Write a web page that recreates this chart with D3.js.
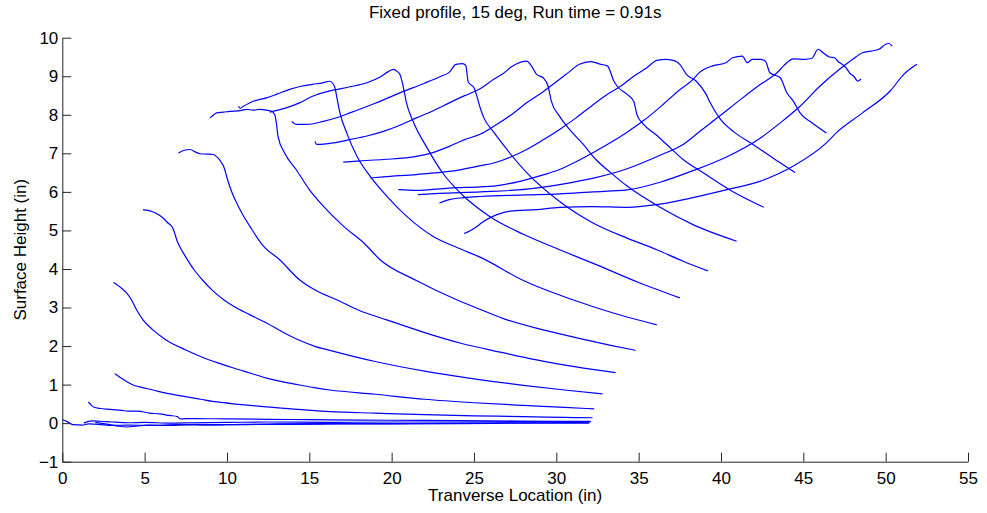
<!DOCTYPE html>
<html>
<head>
<meta charset="utf-8">
<script src="https://cdn.jsdelivr.net/npm/d3@7/dist/d3.min.js"></script>
<style>
  html, body { margin: 0; padding: 0; background: #fff; }
  svg { display: block; font-family: "Liberation Sans", Arial, Helvetica, sans-serif; }
</style>
</head>
<body>
<svg id="chart" width="987" height="513"></svg>
<script>
// Chart text and axis ticks
const chartTitle = "Fixed profile, 15 deg, Run time = 0.91s";
const xLabel = "Tranverse Location (in)";
const yLabel = "Surface Height (in)";
const xTicks = [0, 5, 10, 15, 20, 25, 30, 35, 40, 45, 50, 55];
const yTicks = [-1, 0, 1, 2, 3, 4, 5, 6, 7, 8, 9, 10];
const yTickLabels = ["\u22121", "0", "1", "2", "3", "4", "5", "6", "7", "8", "9", "10"];

// Surface profiles, [transverse location (in), surface height (in)], one per snapshot
const profileZ0 = [[0,0.09],[0.3,0.04],[0.65,-0.04],[1.2,-0.05],[1.6,-0.02],[2.2,-0.03],[3.0,-0.06],[4.0,-0.05],[5.5,-0.06],[7,-0.04],[9,-0.05],[11,-0.03],[14,-0.03],[17,-0.02],[20,-0.02],[24,-0.01],[28,0.0],[32,0.0]];
const profileZ1 = [[1.3,0.0],[1.8,0.06],[2.3,0.05],[3.0,0.03],[4.0,0.01],[5.0,0.02],[6.5,0.0],[8,0.01],[10,0.02],[13,0.03],[16,0.02],[20,0.03],[24,0.03],[28,0.04],[32.1,0.04]];
const profileZ2 = [[2.0,0.02],[2.6,-0.02],[3.3,-0.07],[3.9,-0.1],[4.5,-0.08],[5.2,-0.05],[6.5,-0.06],[8,-0.03],[10,-0.04],[13,-0.02],[16,-0.01],[20,-0.01],[25,0.0],[29,0.01],[32,0.02]];
const profile01 = [[1.58,0.55],[1.75,0.47],[1.9,0.42],[2.3,0.38],[2.9,0.36],[3.6,0.33],[4.0,0.31],[4.6,0.31],[5.3,0.26],[5.9,0.24],[6.5,0.2],[7.0,0.17],[7.15,0.11],[8,0.12],[10,0.11],[12.5,0.1],[15,0.09],[18,0.08],[22,0.07],[26,0.06],[30,0.05],[32.1,0.05]];
const profile02 = [[3.2,1.28],[3.5,1.19],[3.9,1.08],[4.3,0.99],[4.7,0.94],[5.5,0.86],[6.3,0.78],[7.3,0.7],[8.4,0.62],[9.4,0.55],[10.4,0.5],[11.4,0.46],[12.4,0.42],[14.3,0.36],[16.25,0.3],[19,0.26],[22,0.22],[25,0.19],[28,0.17],[30.5,0.15],[32.2,0.14]];
const profile03 = [[3.1,3.65],[3.3,3.6],[3.6,3.5],[3.9,3.38],[4.2,3.2],[4.5,2.95],[4.9,2.68],[5.5,2.42],[6.3,2.16],[7.5,1.9],[8.4,1.73],[9.4,1.57],[10.4,1.43],[11.4,1.3],[12.4,1.17],[13.4,1.07],[14.4,0.99],[15.3,0.92],[16.25,0.86],[19,0.75],[22,0.62],[25,0.53],[28,0.46],[30.5,0.41],[32.3,0.37]];
const profile04 = [[4.9,5.54],[5.2,5.52],[5.45,5.49],[5.8,5.42],[6.1,5.33],[6.4,5.2],[6.7,5.07],[7.0,4.7],[7.3,4.45],[7.6,4.24],[8.0,3.98],[8.5,3.72],[9.1,3.45],[9.8,3.2],[10.4,3.03],[11.4,2.81],[12.4,2.6],[13.4,2.36],[14.4,2.15],[15.3,2.0],[16.25,1.89],[19,1.6],[22,1.35],[25,1.15],[28,0.98],[30.5,0.86],[32.8,0.76]];
const profile05 = [[7.05,7.01],[7.4,7.08],[7.75,7.1],[8.1,7.03],[8.36,6.99],[8.8,6.98],[9.17,6.97],[9.45,6.88],[9.68,6.75],[9.85,6.6],[9.98,6.4],[10.2,6.1],[10.49,5.8],[10.9,5.45],[11.4,5.1],[12.2,4.6],[13.2,4.24],[14.4,3.72],[15.5,3.42],[16.66,3.2],[18,2.93],[19.7,2.68],[22,2.35],[24.15,2.08],[26.5,1.85],[28.8,1.64],[31.2,1.46],[33.6,1.31]];
const profile06 = [[8.97,7.92],[9.2,8.0],[9.37,8.05],[9.8,8.07],[10.18,8.09],[10.7,8.1],[11.2,8.14],[11.6,8.12],[12.0,8.14],[12.4,8.12],[12.71,8.09],[12.9,8.0],[13.0,7.79],[13.1,7.44],[13.5,7.01],[14.2,6.58],[15.0,6.06],[15.85,5.63],[17.1,5.1],[18.3,4.68],[19.3,4.24],[21.5,3.7],[23.95,3.2],[25.5,2.93],[27.0,2.68],[29.4,2.4],[31.8,2.16],[33.3,2.02],[34.8,1.89]];
const profile07 = [[10.7,8.22],[10.8,8.17],[11.0,8.22],[11.6,8.35],[12.4,8.44],[13.0,8.53],[13.8,8.66],[14.5,8.74],[15.2,8.79],[15.8,8.83],[16.25,8.87],[16.45,8.8],[16.56,8.7],[16.66,8.48],[16.86,8.05],[17.27,7.53],[17.9,6.92],[18.7,6.4],[19.7,5.89],[20.9,5.37],[22.5,4.85],[24,4.55],[25.4,4.3],[28,3.7],[31,3.2],[33.5,2.85],[36.1,2.55]];
const profile08 = [[12.6,8.07],[13.1,8.12],[13.6,8.18],[14.4,8.31],[15.2,8.48],[16.25,8.62],[17.4,8.72],[18.5,8.83],[19.3,8.98],[19.8,9.12],[20.1,9.18],[20.35,9.12],[20.5,9.05],[20.7,8.74],[20.9,8.31],[21.3,7.83],[22.1,7.18],[23.1,6.49],[24.35,5.9],[26,5.35],[28,4.9],[30.2,4.5],[32.5,4.1],[35,3.65],[37.5,3.25]];
const profile09 = [[13.93,7.83],[14.23,7.75],[14.84,7.75],[15.85,7.83],[16.7,7.93],[17.47,8.05],[19,8.3],[20.5,8.57],[22,8.82],[23.0,9.0],[23.5,9.1],[23.9,9.31],[24.3,9.33],[24.5,9.28],[24.65,8.85],[25.0,8.7],[25.4,8.15],[25.6,7.92],[26.2,7.55],[27,7.1],[28.2,6.5],[30.2,5.75],[32.2,5.2],[34.3,4.8],[36.1,4.5],[37.7,4.2],[39.2,3.95]];
const profile10 = [[15.34,7.31],[15.45,7.23],[16.45,7.27],[17.5,7.36],[18.5,7.45],[19.5,7.57],[20.5,7.73],[21.5,7.92],[22.5,8.1],[23.5,8.31],[24.4,8.49],[25.4,8.68],[26.2,8.92],[26.8,9.08],[27.3,9.25],[27.8,9.36],[28.2,9.39],[28.5,9.26],[28.8,9.05],[29.2,8.96],[29.5,8.74],[29.7,8.35],[30.2,7.96],[30.8,7.62],[31.6,7.25],[32.4,6.84],[33.3,6.5],[34.3,6.15],[36.3,5.6],[38.3,5.15],[40.95,4.72]];
const profile11 = [[17.06,6.77],[17.9,6.8],[19.5,6.84],[21.5,6.92],[22.5,7.02],[23.5,7.18],[24.4,7.35],[25.4,7.5],[26.2,7.7],[27.2,7.98],[28.2,8.31],[29.2,8.6],[30.2,8.92],[30.8,9.12],[31.4,9.31],[32.1,9.38],[32.7,9.31],[33.1,9.27],[33.5,8.87],[33.7,8.74],[34.3,8.53],[34.7,8.35],[34.9,8.0],[35.3,7.75],[36.0,7.5],[36.7,7.23],[37.7,6.84],[38.9,6.5],[40.7,6.01],[42.6,5.6]];
const profile12 = [[18.7,6.36],[19.5,6.39],[21.5,6.45],[23.5,6.53],[25.4,6.68],[26.2,6.75],[27.2,6.9],[28.2,7.1],[29.2,7.35],[30.2,7.62],[31.2,7.92],[32.2,8.25],[33.0,8.5],[33.9,8.74],[34.7,9.0],[35.5,9.22],[36.1,9.41],[36.7,9.44],[37.2,9.4],[37.5,9.31],[37.9,9.05],[38.5,8.87],[39.1,8.53],[39.3,8.35],[39.9,7.92],[40.8,7.55],[41.8,7.27],[42.4,7.1],[43.5,6.78],[44.5,6.5]];
const profile13 = [[20.4,6.06],[21.5,6.04],[23.5,6.1],[25.4,6.13],[26.2,6.15],[27.2,6.22],[28.2,6.32],[29.2,6.44],[30.2,6.58],[31.2,6.78],[32.2,7.01],[33.3,7.28],[34.3,7.55],[35.3,7.85],[36.3,8.2],[37.3,8.58],[38.3,8.92],[38.7,9.1],[39.5,9.27],[40.3,9.35],[40.7,9.48],[41.3,9.52],[41.6,9.35],[41.9,9.44],[42.4,9.44],[42.7,9.39],[42.97,9.09],[43.6,8.96],[44.0,8.57],[44.4,8.35],[44.8,8.05],[45.5,7.8],[46.4,7.53]];
const profile14 = [[21.6,5.93],[22.9,5.96],[25.4,6.0],[28.2,6.07],[30.2,6.19],[32.2,6.35],[34.3,6.6],[36.3,6.95],[37.7,7.23],[38.8,7.6],[39.9,7.96],[41.2,8.4],[42.4,8.79],[43.4,9.09],[43.8,9.27],[44.4,9.45],[45.1,9.44],[45.5,9.46],[45.9,9.7],[46.2,9.61],[46.6,9.5],[46.9,9.48],[47.1,9.39],[47.6,9.22],[47.8,9.09],[48.1,8.98],[48.3,8.87],[48.5,8.93]];
const profile15 = [[22.9,5.71],[23.5,5.8],[24.4,5.85],[25.4,5.88],[28.2,5.92],[30.2,5.95],[32.2,6.0],[34.3,6.05],[36.3,6.25],[38.3,6.55],[40.3,6.9],[42.4,7.4],[43.6,7.79],[44.8,8.22],[46.0,8.74],[47.2,9.18],[48.0,9.44],[48.6,9.61],[49.1,9.65],[49.6,9.7],[50.0,9.83],[50.2,9.85],[50.4,9.78]];
const profile16 = [[24.4,4.92],[24.8,5.0],[25.2,5.11],[25.6,5.24],[26.4,5.41],[27.2,5.5],[28.8,5.54],[30.2,5.6],[32.2,5.62],[34.3,5.6],[36.3,5.68],[38.3,5.85],[40.3,6.05],[42.4,6.28],[44.4,6.67],[46.4,7.27],[47.0,7.53],[48.6,8.05],[50.3,8.63],[51.1,9.05],[51.9,9.31]];

const profiles = [profileZ0, profileZ1, profileZ2, profile01, profile02, profile03, profile04,
  profile05, profile06, profile07, profile08, profile09, profile10, profile11, profile12,
  profile13, profile14, profile15, profile16];

const svg = d3.select("#chart");
const x = d3.scaleLinear().domain([0, 55]).range([62.3, 968]);
const y = d3.scaleLinear().domain([-1, 10]).range([461.7, 37.7]);
const font = 17;

// Axes: left and bottom only, ticks pointing inward
const xAxis = d3.axisBottom(x).tickValues(xTicks).tickFormat(d3.format("d"))
  .tickSizeInner(-9).tickSizeOuter(0).tickPadding(10);
const yAxis = d3.axisLeft(y).tickValues(yTicks).tickFormat((d, i) => yTickLabels[i])
  .tickSizeInner(-9).tickSizeOuter(0).tickPadding(4);

const gx = svg.append("g").attr("transform", `translate(0,${y(-1)})`).call(xAxis);
const gy = svg.append("g").attr("transform", `translate(${x(0)},0)`).call(yAxis);
[gx, gy].forEach(g => {
  g.attr("color", "#000");
  g.selectAll("path, line").attr("stroke", "#262626");
  g.selectAll("text").attr("font-size", font).attr("fill", "#000");
});

// Profile lines
const line = d3.line().x(d => x(d[0])).y(d => y(d[1])).curve(d3.curveMonotoneX);
svg.append("g").selectAll("path").data(profiles).join("path")
  .attr("d", line)
  .attr("fill", "none")
  .attr("stroke", "#0000ff")
  .attr("stroke-width", 1.2)
  .attr("stroke-linejoin", "round");

// Title and axis labels
svg.append("text").attr("x", (x(0) + x(55)) / 2).attr("y", 18)
  .attr("text-anchor", "middle").attr("font-size", font).text(chartTitle);
svg.append("text").attr("x", (x(0) + x(55)) / 2).attr("y", 501)
  .attr("text-anchor", "middle").attr("font-size", font).text(xLabel);
svg.append("text").attr("transform", `translate(26,${(y(-1) + y(10)) / 2}) rotate(-90)`)
  .attr("text-anchor", "middle").attr("font-size", font).text(yLabel);
</script>
</body>
</html>
